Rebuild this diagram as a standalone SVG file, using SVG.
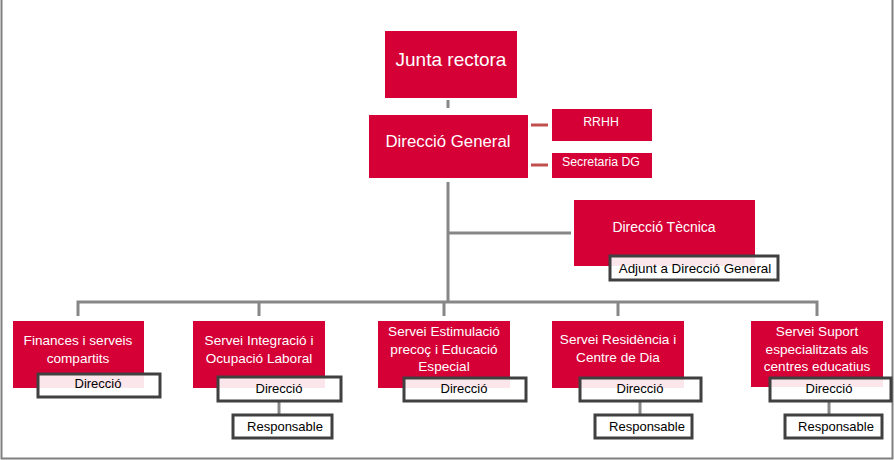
<svg xmlns="http://www.w3.org/2000/svg" width="894" height="460" viewBox="0 0 894 460">
<style>
.red{fill:#D50036}
.wt{fill:#fff;font-family:"Liberation Sans",Arial,sans-serif;text-anchor:middle;font-size:13.6px}
.bt{fill:#000;font-family:"Liberation Sans",Arial,sans-serif;text-anchor:middle;font-size:13px}
.lbl{fill:#fff;fill-opacity:0.9;stroke:#404040;stroke-width:3}
.gl{stroke:#878787;stroke-width:3;fill:none}
.rl{stroke:#C0504D;stroke-width:3;fill:none}
</style>
<rect width="894" height="460" fill="#fff"/>
<path d="M1.5 0V458.5H892.5V0" fill="none" stroke="#808080" stroke-width="2"/>
<g id="connectors">
<path class="gl" d="M448 100V108"/>
<path class="gl" d="M448 182V302M448 233H571M78 316V302H817V316M259 302V316M444 302V316M618 302V316"/>
<path class="rl" d="M531 125H548M531 165H548"/>
<path class="gl" d="M279 401V415M640 401V415M829 401V415"/>
</g>
<g id="junta">
<rect class="red" x="385" y="31" width="132" height="67"/>
<text class="wt" x="451" y="66" style="font-size:19px">Junta rectora</text>
</g>
<g id="dg">
<rect class="red" x="369" y="115" width="159" height="63"/>
<text class="wt" x="448" y="147" style="font-size:16.8px">Direcció General</text>
</g>
<g id="rrhh">
<rect class="red" x="552" y="109" width="100" height="32"/>
<text class="wt" x="601" y="126" style="font-size:12.3px">RRHH</text>
</g>
<g id="secretaria">
<rect class="red" x="552" y="153" width="100" height="25"/>
<text class="wt" x="601" y="166" style="font-size:12.3px">Secretaria DG</text>
</g>
<g id="dtecnica">
<rect class="red" x="574" y="200" width="181" height="66"/>
<text class="wt" x="664" y="232" style="font-size:14px">Direcció Tècnica</text>
<rect class="lbl" x="610" y="256" width="168" height="24"/>
<text class="bt" x="695" y="273" style="font-size:13.4px">Adjunt a Direcció General</text>
</g>
<g id="finances">
<rect class="red" x="13" y="321" width="131" height="67"/>
<text class="wt" x="78" y="345">Finances i serveis</text>
<text class="wt" x="78" y="363">compartits</text>
<rect class="lbl" x="38" y="374" width="122" height="23"/>
<text class="bt" x="98" y="388">Direcció</text>
</g>
<g id="integracio">
<rect class="red" x="193" y="321" width="132" height="67"/>
<text class="wt" x="259" y="345">Servei Integració i</text>
<text class="wt" x="259" y="363">Ocupació Laboral</text>
<rect class="lbl" x="218" y="377" width="123" height="24"/>
<text class="bt" x="279" y="393">Direcció</text>
<rect class="lbl" x="233" y="415" width="99" height="23"/>
<text class="bt" x="285" y="431">Responsable</text>
</g>
<g id="estimulacio">
<rect class="red" x="378" y="321" width="132" height="67"/>
<text class="wt" x="444" y="336">Servei Estimulació</text>
<text class="wt" x="444" y="354">precoç i Educació</text>
<text class="wt" x="444" y="371">Especial</text>
<rect class="lbl" x="404" y="378" width="122" height="23"/>
<text class="bt" x="464" y="393">Direcció</text>
</g>
<g id="residencia">
<rect class="red" x="552" y="321" width="132" height="67"/>
<text class="wt" x="618" y="344">Servei Residència i</text>
<text class="wt" x="618" y="362">Centre de Dia</text>
<rect class="lbl" x="580" y="378" width="121" height="23"/>
<text class="bt" x="640" y="393">Direcció</text>
<rect class="lbl" x="595" y="415" width="97" height="23"/>
<text class="bt" x="647" y="431">Responsable</text>
</g>
<g id="suport">
<rect class="red" x="751" y="321" width="132" height="66"/>
<text class="wt" x="817" y="336">Servei  Suport</text>
<text class="wt" x="817" y="354">especialitzats als</text>
<text class="wt" x="817" y="371">centres educatius</text>
<rect class="lbl" x="770" y="378" width="121" height="23"/>
<text class="bt" x="829" y="393">Direcció</text>
<rect class="lbl" x="785" y="415" width="97" height="23"/>
<text class="bt" x="836" y="431">Responsable</text>
</g>
</svg>
